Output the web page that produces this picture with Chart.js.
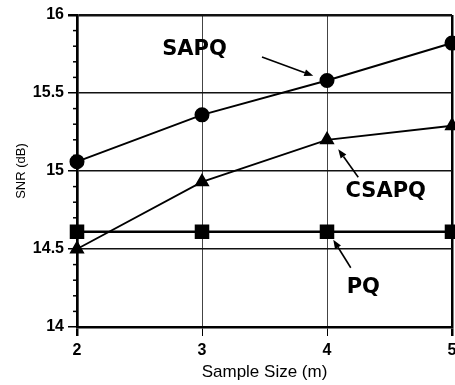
<!DOCTYPE html>
<html>
<head>
<meta charset="utf-8">
<script src="https://cdn.jsdelivr.net/npm/chart.js@4/dist/chart.umd.min.js"></script>
<style>
  html, body { margin: 0; padding: 0; background: #fff; overflow: hidden; }
  #wrap { width: 465px; height: 385px; position: relative; }
</style>
</head>
<body>
<div id="wrap"><canvas id="snrChart"></canvas></div>
<script>
// sample sizes (m)
const sampleSizes = [2, 3, 4, 5];

// SNR (dB) per method
const snrSAPQ  = [15.06, 15.36, 15.58, 15.82];
const snrCSAPQ = [14.50, 14.93, 15.20, 15.29];
const snrPQ    = [14.61, 14.61, 14.61, 14.61];

const seriesNames = ['SAPQ', 'CSAPQ', 'PQ'];

// callout labels, in data units: [label, textX, textY, arrowFromX, arrowFromY, arrowToX, arrowToY]
const callouts = [
    ['SAPQ',  2.94, 15.78, 3.48, 15.73, 3.89, 15.61],
    ['CSAPQ', 4.47, 14.87, 4.25, 14.96, 4.09, 15.14],
    ['PQ',    4.29, 14.25, 4.19, 14.38, 4.05, 14.56]
];

const isMajor = function (v) {
    return Math.abs(v * 2 - Math.round(v * 2)) < 1e-6;
};

const toPoints = function (values) {
    return values.map( (v, i) => ({ x: sampleSizes[i], y: v }) );
};

// short minor ticks on the y axis + text callouts with arrows
const extrasPlugin = {
    id: 'extras',
    afterDraw(chart) {
        const ctx = chart.ctx;
        const xs = chart.scales.x, ys = chart.scales.y;

        ctx.save();
        ctx.strokeStyle = '#000';
        ctx.lineWidth = 1.5;
        ys.ticks.forEach( t => {
            if ( isMajor(t.value) ) return;
            const py = ys.getPixelForValue(t.value);
            ctx.beginPath();
            ctx.moveTo(xs.left - 4, py);
            ctx.lineTo(xs.left, py);
            ctx.stroke();
        });

        ctx.fillStyle = '#000';
        ctx.font = 'bold 21px "DejaVu Sans"';
        ctx.textAlign = 'center';
        ctx.textBaseline = 'middle';
        callouts.forEach( c => {
            ctx.fillText(c[0], xs.getPixelForValue(c[1]), ys.getPixelForValue(c[2]));

            const x1 = xs.getPixelForValue(c[3]), y1 = ys.getPixelForValue(c[4]);
            const x2 = xs.getPixelForValue(c[5]), y2 = ys.getPixelForValue(c[6]);
            const ang = Math.atan2(y2 - y1, x2 - x1);
            const head = 9, half = 3.5;
            ctx.lineWidth = 1.6;
            ctx.beginPath();
            ctx.moveTo(x1, y1);
            ctx.lineTo(x2 - Math.cos(ang) * head, y2 - Math.sin(ang) * head);
            ctx.stroke();
            ctx.beginPath();
            ctx.moveTo(x2, y2);
            ctx.lineTo(x2 - Math.cos(ang) * head - Math.sin(ang) * half, y2 - Math.sin(ang) * head + Math.cos(ang) * half);
            ctx.lineTo(x2 - Math.cos(ang) * head + Math.sin(ang) * half, y2 - Math.sin(ang) * head - Math.cos(ang) * half);
            ctx.closePath();
            ctx.fill();
        });
        ctx.restore();
    }
};

const tickFont = { family: '"Liberation Sans", Arial, sans-serif', size: 16, weight: 'bold' };
const titleFont = { family: '"Liberation Sans", Arial, sans-serif', size: 17 };

new Chart( document.getElementById('snrChart'), {
    type: 'line',
    data: {
        datasets: [
            {
                label: seriesNames[0],
                data: toPoints(snrSAPQ),
                borderColor: '#000',
                backgroundColor: '#000',
                borderWidth: 2,
                pointStyle: 'circle',
                pointRadius: 6.5,
                tension: 0
            },
            {
                label: seriesNames[1],
                data: toPoints(snrCSAPQ),
                borderColor: '#000',
                backgroundColor: '#000',
                borderWidth: 1.8,
                pointStyle: 'triangle',
                pointRadius: 7,
                tension: 0
            },
            {
                label: seriesNames[2],
                data: toPoints(snrPQ),
                borderColor: '#000',
                backgroundColor: '#000',
                borderWidth: 2.5,
                pointStyle: 'rect',
                pointRadius: 8.5,
                tension: 0
            }
        ]
    },
    options: {
        responsive: true,
        maintainAspectRatio: false,
        devicePixelRatio: 1,
        animation: false,
        clip: false,
        layout: { padding: { top: 15, right: 13, left: 0, bottom: 0 } },
        plugins: {
            legend: { display: false },
            tooltip: { enabled: false }
        },
        scales: {
            x: {
                type: 'linear',
                min: 2,
                max: 5,
                afterFit: s => { s.height = 58; },
                ticks: {
                    stepSize: 1,
                    color: '#000',
                    font: tickFont,
                    padding: 5
                },
                grid: {
                    color: c => (c.tick.value === 5 ? '#000' : '#444'),
                    lineWidth: c => (c.tick.value === 5 || c.tick.value === 2 ? 2.5 : 1),
                    tickLength: 9,
                    tickColor: '#000'
                },
                border: { color: '#000', width: 2.5 },
                title: {
                    display: true,
                    text: 'Sample Size (m)',
                    color: '#000',
                    font: titleFont,
                    padding: { top: 0, bottom: 2 }
                }
            },
            y: {
                min: 14,
                max: 16,
                afterFit: s => { s.width = 77; },
                ticks: {
                    stepSize: 0.1,
                    autoSkip: false,
                    color: '#000',
                    font: tickFont,
                    padding: 4,
                    callback: v => (isMajor(v) ? String(Math.round(v * 2) / 2) : '')
                },
                grid: {
                    color: c => (isMajor(c.tick.value) ? '#111' : 'rgba(0,0,0,0)'),
                    lineWidth: c => (Math.abs(c.tick.value - 16) < 1e-6 ? 2.5 : 1.5),
                    tickLength: 9,
                    tickColor: c => (isMajor(c.tick.value) ? '#000' : 'rgba(0,0,0,0)')
                },
                border: { color: '#000', width: 2.5 },
                title: {
                    display: true,
                    text: 'SNR (dB)',
                    color: '#000',
                    font: { family: '"Liberation Sans", Arial, sans-serif', size: 13 },
                    padding: { top: 14, bottom: 0 }
                }
            }
        }
    },
    plugins: [ extrasPlugin ]
});
</script>
</body>
</html>
